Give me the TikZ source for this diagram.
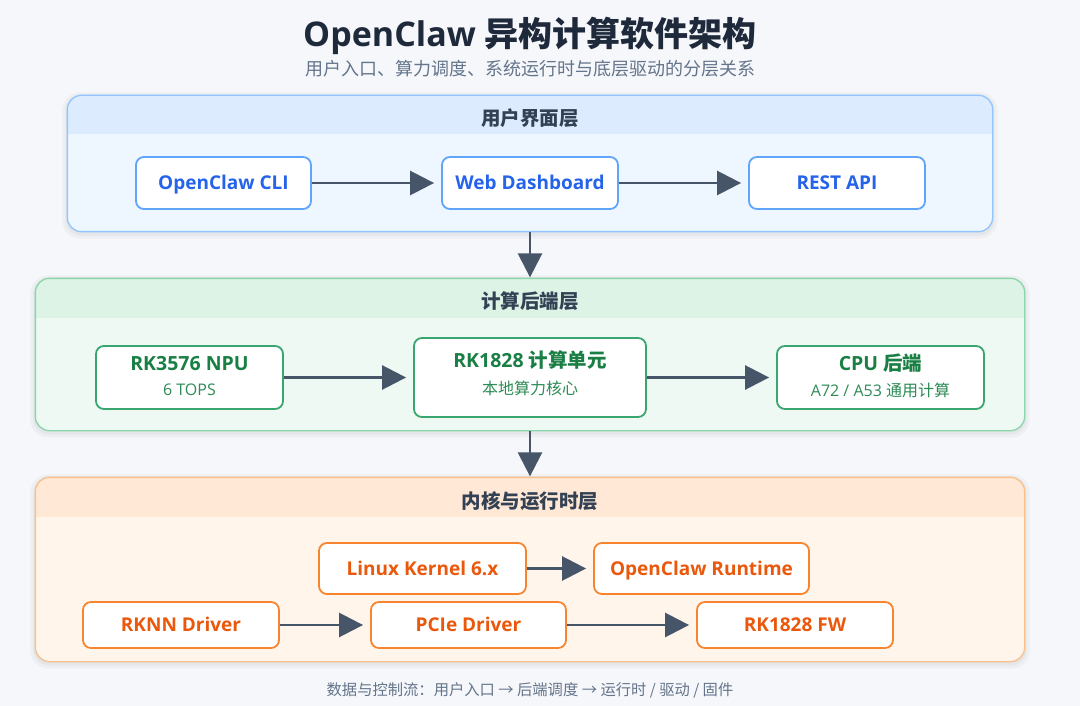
\documentclass[tikz,border=0pt]{standalone}
\usepackage{fontspec}
\setmainfont{Open Sans}
\newfontfamily\cjk{Noto Sans CJK SC}
\usetikzlibrary{arrows.meta}
\pgfdeclarelayer{back}
\pgfsetlayers{back,main}
\definecolor{bgc}{HTML}{F5F7FA}
\definecolor{titlec}{HTML}{1E293B}
\definecolor{subc}{HTML}{64748B}
\definecolor{hdrc}{HTML}{334155}
\definecolor{arrc}{HTML}{475569}
\definecolor{blbody}{HTML}{EEF6FF}
\definecolor{blhead}{HTML}{DCEBFD}
\definecolor{blline}{HTML}{93C5FD}
\definecolor{blbox}{HTML}{60A5FA}
\definecolor{bltext}{HTML}{2563EB}
\definecolor{grbody}{HTML}{EDF9F2}
\definecolor{grhead}{HTML}{DCF3E5}
\definecolor{grline}{HTML}{8AD6A8}
\definecolor{grbox}{HTML}{3AA66F}
\definecolor{grtext}{HTML}{1A7F44}
\definecolor{grsub}{HTML}{2E8B57}
\definecolor{orbody}{HTML}{FFF5EB}
\definecolor{orhead}{HTML}{FFE8D5}
\definecolor{orline}{HTML}{F9C08A}
\definecolor{orbox}{HTML}{F7852F}
\definecolor{ortext}{HTML}{EA580C}
\begin{document}
\begin{tikzpicture}[x=1pt,y=-1pt,
  lay/.style={rounded corners=14pt, line width=1.3pt, inner sep=0pt},
  box/.style={rounded corners=8pt, line width=1.8pt, fill=white, inner sep=0pt,
    font=\bfseries\fontsize{19}{24}\selectfont, text height=13.6pt, text depth=0pt},
  lbl/.style={anchor=base, inner sep=0pt},
  big/.style={font=\bfseries\fontsize{19.5}{24}\selectfont},
  small/.style={font=\fontsize{16}{20}\selectfont},
  hdr/.style={anchor=base, inner sep=0pt, text=hdrc, font=\cjk\bfseries\fontsize{19.5}{24}\selectfont},
  arr/.style={draw=arrc, line width=2.6pt, -{Triangle[length=24pt,width=24pt]}, shorten >=7pt},
  varr/.style={draw=arrc, line width=2.6pt, -{Triangle[length=24pt,width=24pt]}, shorten >=1pt},
  shade1/.style={fill=black, opacity=0.03, rounded corners=18pt},
  shade2/.style={fill=black, opacity=0.035, rounded corners=16pt}
]
\useasboundingbox (0,0) rectangle (1080,706);

% title
\node[lbl, text=titlec, font=\bfseries\fontsize{34}{40}\selectfont] (title) at (530,46.5)
  {OpenClaw {\cjk 异构计算软件架构}};
\node[lbl, text=subc, font=\cjk\fontsize{18}{22}\selectfont] (subtitle) at (530,75.5)
  {用户入口、算力调度、系统运行时与底层驱动的分层关系};

% ---------- layer 1
\node[lay, fill=blbody, minimum width=924pt, minimum height=135pt] (L1) at (530,163.5) {};
\begin{scope}
  \clip[rounded corners=14pt] (L1.north west) rectangle (L1.south east);
  \fill[blhead] (L1.north west) rectangle ([yshift=-39pt]L1.north east);
\end{scope}
\draw[blline, line width=1.3pt, rounded corners=14pt] (L1.north west) rectangle (L1.south east);
\node[hdr] (L1h) at (530,125.5) {用户界面层};

\node[box, draw=blbox, text=bltext, minimum width=175pt, minimum height=52pt] (cli) at (223.5,183) {OpenClaw CLI};
\node[box, draw=blbox, text=bltext, minimum width=176pt, minimum height=52pt] (dash) at (530,183) {Web Dashboard};
\node[box, draw=blbox, text=bltext, minimum width=176pt, minimum height=52pt] (rest) at (837,183) {REST API};
\draw[arr] (cli.east) -- (dash.west);
\draw[arr] (dash.east) -- (rest.west);

% ---------- layer 2
\node[lay, fill=grbody, minimum width=988pt, minimum height=151pt] (L2) at (530,354.5) {};
\begin{scope}
  \clip[rounded corners=14pt] (L2.north west) rectangle (L2.south east);
  \fill[grhead] (L2.north west) rectangle ([yshift=-40pt]L2.north east);
\end{scope}
\draw[grline, line width=1.3pt, rounded corners=14pt] (L2.north west) rectangle (L2.south east);
\node[hdr] (L2h) at (530,308.5) {计算后端层};

\node[box, draw=grbox, minimum width=187pt, minimum height=63pt] (npu) at (189.5,377.5) {};
\node[box, draw=grbox, minimum width=232pt, minimum height=79pt] (rk) at (530,377.5) {};
\node[box, draw=grbox, minimum width=207pt, minimum height=63pt] (cpu) at (880.5,377.5) {};
\node[lbl, big, text=grtext] (npu-t) at (189.5,370.5) {RK3576 NPU};
\node[lbl, small, text=grsub] (npu-s) at (189.5,395.5) {6 TOPS};
\node[lbl, big, text=grtext] (rk-t) at (530,367) {RK1828 {\cjk 计算单元}};
\node[lbl, small, text=grsub, font=\cjk\fontsize{16}{20}\selectfont] (rk-s) at (530,394) {本地算力核心};
\node[lbl, big, text=grtext] (cpu-t) at (880.5,370) {CPU {\cjk 后端}};
\node[lbl, small, text=grsub] (cpu-s) at (880.5,396) {A72 / A53 {\cjk 通用计算}};
\draw[arr] (npu.east) -- (rk.west);
\draw[arr] (rk.east) -- (cpu.west);

% ---------- layer 3
\node[lay, fill=orbody, minimum width=988pt, minimum height=183pt] (L3) at (530,569.5) {};
\begin{scope}
  \clip[rounded corners=14pt] (L3.north west) rectangle (L3.south east);
  \fill[orhead] (L3.north west) rectangle ([yshift=-40pt]L3.north east);
\end{scope}
\draw[orline, line width=1.3pt, rounded corners=14pt] (L3.north west) rectangle (L3.south east);
\node[hdr] (L3h) at (530,508) {内核与运行时层};

\node[box, draw=orbox, text=ortext, minimum width=207pt, minimum height=51pt] (linux) at (422.5,568.5) {Linux Kernel 6.x};
\node[box, draw=orbox, text=ortext, minimum width=215pt, minimum height=51pt] (rt) at (701.5,568.5) {OpenClaw Runtime};
\node[box, draw=orbox, text=ortext, minimum width=196pt, minimum height=46pt] (rknn) at (181,625) {RKNN Driver};
\node[box, draw=orbox, text=ortext, minimum width=195pt, minimum height=46pt] (pcie) at (468.5,625) {PCIe Driver};
\node[box, draw=orbox, text=ortext, minimum width=196pt, minimum height=46pt] (fw) at (795,625) {RK1828 FW};
\draw[arr] (linux.east) -- (rt.west);
\draw[arr] (rknn.east) -- (pcie.west);
\draw[arr] (pcie.east) -- (fw.west);

% ---------- between layers
\draw[varr] (L1.south) -- (L2.north);
\draw[varr] (L2.south) -- (L3.north);

% footer
\node[lbl, text=subc, font=\cjk\fontsize{15.3}{18}\selectfont] (foot) at (530,695.5)
  {数据与控制流：用户入口 → 后端调度 → 运行时 / 驱动 / 固件};

% background and soft shadows
\begin{pgfonlayer}{back}
  \fill[bgc] (0,0) rectangle (1080,706);
  \foreach \L in {L1,L2,L3}{
    \path[shade1] ([shift={(-5pt,-7pt)}]\L.south west) rectangle ([shift={(5pt,3pt)}]\L.north east);
    \path[shade2] ([shift={(-2pt,-4pt)}]\L.south west) rectangle ([shift={(2pt,1pt)}]\L.north east);
  }
\end{pgfonlayer}
\end{tikzpicture}
\end{document}
